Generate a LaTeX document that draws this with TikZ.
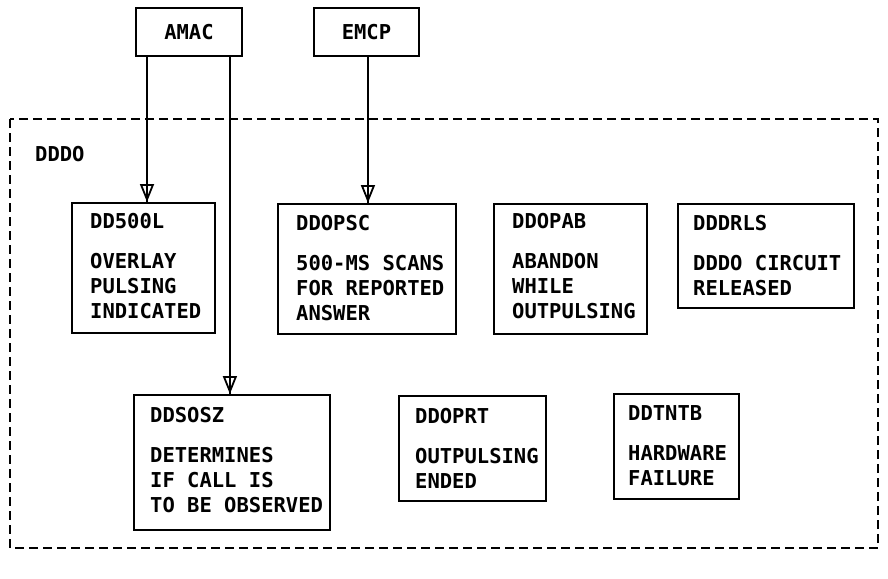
\documentclass[tikz,border=0pt]{standalone}
\usepackage{fontspec}
\setmonofont{DejaVu Sans Mono}
\usetikzlibrary{arrows.meta}
\tikzset{
  box/.style={draw, line width=1.9pt, inner sep=0pt, anchor=north west},
  txt/.style={inner sep=0pt, anchor=north west, align=left, font=\ttfamily\bfseries\fontsize{20.5}{25}\selectfont},
  ctxt/.style={inner sep=0pt, font=\ttfamily\bfseries\fontsize{20.5}{25}\selectfont},
  frame/.style={draw, line width=1.5pt, dash pattern=on 9pt off 5pt},
  conn/.style={line width=1.8pt},
  head/.style={line width=1.8pt, -{Triangle[open, length=18pt, width=14pt, line width=1.8pt]}}
}
\begin{document}
\begin{tikzpicture}[x=1pt, y=-1pt]
\useasboundingbox (0,0) rectangle (888,578);
% frame
\draw[frame] (10,119) rectangle (878,548);
\node[txt] (DDDOt) at (35,146) {DDDO};
% top boxes
\node[box, minimum width=106pt, minimum height=48pt] (AMAC) at (135,7) {};
\node[ctxt] (AMACt) at (AMAC.center) {AMAC};
\node[box, minimum width=105pt, minimum height=48pt] (EMCP) at (313,7) {};
\node[ctxt] (EMCPt) at (EMCP.center) {EMCP};
% row 1
\node[box, minimum width=143pt, minimum height=130pt] (DD500L) at (71,202) {};
\node[txt] (DD500Lt) at ([shift={(19pt,-11pt)}]DD500L.north west) {DD500L\\[15pt]OVERLAY\\PULSING\\INDICATED};
\node[box, minimum width=178pt, minimum height=130pt] (DDOPSC) at (277,203) {};
\node[txt] (DDOPSCt) at ([shift={(19pt,-12pt)}]DDOPSC.north west) {DDOPSC\\[15pt]500-MS SCANS\\FOR REPORTED\\ANSWER};
\node[box, minimum width=153pt, minimum height=130pt] (DDOPAB) at (493,203) {};
\node[txt] (DDOPABt) at ([shift={(19pt,-10pt)}]DDOPAB.north west) {DDOPAB\\[15pt]ABANDON\\WHILE\\OUTPULSING};
\node[box, minimum width=176pt, minimum height=104pt] (DDDRLS) at (677,203) {};
\node[txt] (DDDRLSt) at ([shift={(16pt,-12pt)}]DDDRLS.north west) {DDDRLS\\[15pt]DDDO CIRCUIT\\RELEASED};
% row 2
\node[box, minimum width=196pt, minimum height=135pt] (DDSOSZ) at (133,394) {};
\node[txt] (DDSOSZt) at ([shift={(17pt,-13pt)}]DDSOSZ.north west) {DDSOSZ\\[15pt]DETERMINES\\IF CALL IS\\TO BE OBSERVED};
\node[box, minimum width=147pt, minimum height=105pt] (DDOPRT) at (398,395) {};
\node[txt] (DDOPRTt) at ([shift={(17pt,-13pt)}]DDOPRT.north west) {DDOPRT\\[15pt]OUTPULSING\\ENDED};
\node[box, minimum width=125pt, minimum height=105pt] (DDTNTB) at (613,393) {};
\node[txt] (DDTNTBt) at ([shift={(15pt,-12pt)}]DDTNTB.north west) {DDTNTB\\[15pt]HARDWARE\\FAILURE};
% connectors
\coordinate (amacL) at ([xshift=12pt]AMAC.south west);
\coordinate (amacR) at ([xshift=-13pt]AMAC.south east);
\coordinate (emcpC) at ([xshift=1.5pt]EMCP.south);
\draw[conn] (amacL) -- (amacL |- DD500L.north);
\draw[head] (amacL) -- (amacL |- DD500L.north);
\draw[conn] (amacR) -- (amacR |- DDSOSZ.north);
\draw[head] (amacR) -- (amacR |- DDSOSZ.north);
\draw[conn] (emcpC) -- (emcpC |- DDOPSC.north);
\draw[head] (emcpC) -- (emcpC |- DDOPSC.north);
\end{tikzpicture}
\end{document}
